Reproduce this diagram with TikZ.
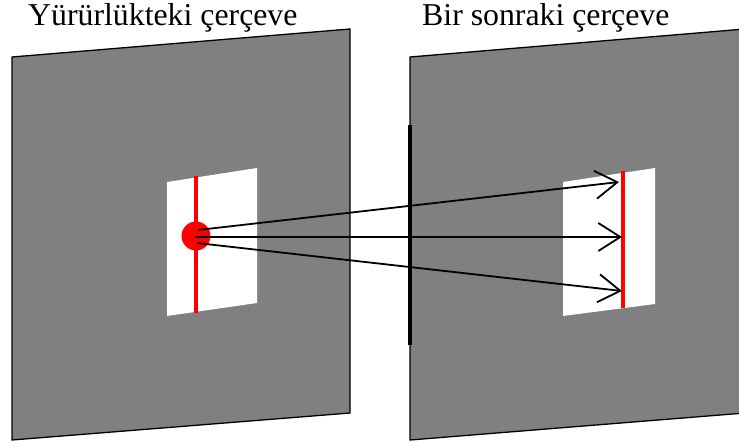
\documentclass[tikz,border=0pt]{standalone}
\usepackage{fontspec}
\setmainfont{Liberation Serif}
\usetikzlibrary{arrows.meta}
\definecolor{panelgray}{RGB}{128,128,128}
\definecolor{redline}{RGB}{255,0,0}
\begin{document}
\begin{tikzpicture}[x=1pt,y=-1pt,
  panel/.style={fill=panelgray,draw=black,line width=1.3pt},
  hole/.style={fill=white,draw=none},
  redstroke/.style={draw=redline,line width=3.3pt},
  motion/.style={draw=black,line width=1.8pt,-{Straight Barb[length=22pt,width=28pt,line width=1.8pt]}},
  title/.style={font=\fontsize{31.8}{34}\selectfont,anchor=base west,inner sep=0pt}]
\useasboundingbox (0,0) rectangle (739,447);
% panels
\draw[panel] (12,57) -- (350,29) -- (350,413) -- (12,440) -- cycle;
\draw[panel] (410,57) -- (745,29) -- (745,413) -- (410,440) -- cycle;
\draw[black,line width=3.5pt] (410,125) -- (410,345);
% white windows
\fill[hole] (167,182) -- (257,168) -- (257,303) -- (167,316) -- cycle;
\fill[hole] (563,182) -- (655,168) -- (655,304) -- (563,316) -- cycle;
% red lines
\draw[redstroke] (196,176) -- (196,313);
\draw[redstroke] (623,171) -- (623,308);
% red dot
\node[circle,fill=redline,minimum size=29pt,inner sep=0pt] (dot) at (196,236) {};
\coordinate (s1) at (198,230);
\coordinate (s2) at (195,237);
\coordinate (s3) at (197,243);
\coordinate (t1) at (619,182);
\coordinate (t2) at (622,237);
\coordinate (t3) at (622,291);
\draw[motion] (s1) -- (t1);
\draw[motion] (s2) -- (t2);
\draw[motion] (s3) -- (t3);
% titles
\node[title] (lt) at (28,25) {Yürürlükteki çerçeve};
\node[title] (rt) at (422,25) {Bir sonraki çerçeve};
\end{tikzpicture}
\end{document}
